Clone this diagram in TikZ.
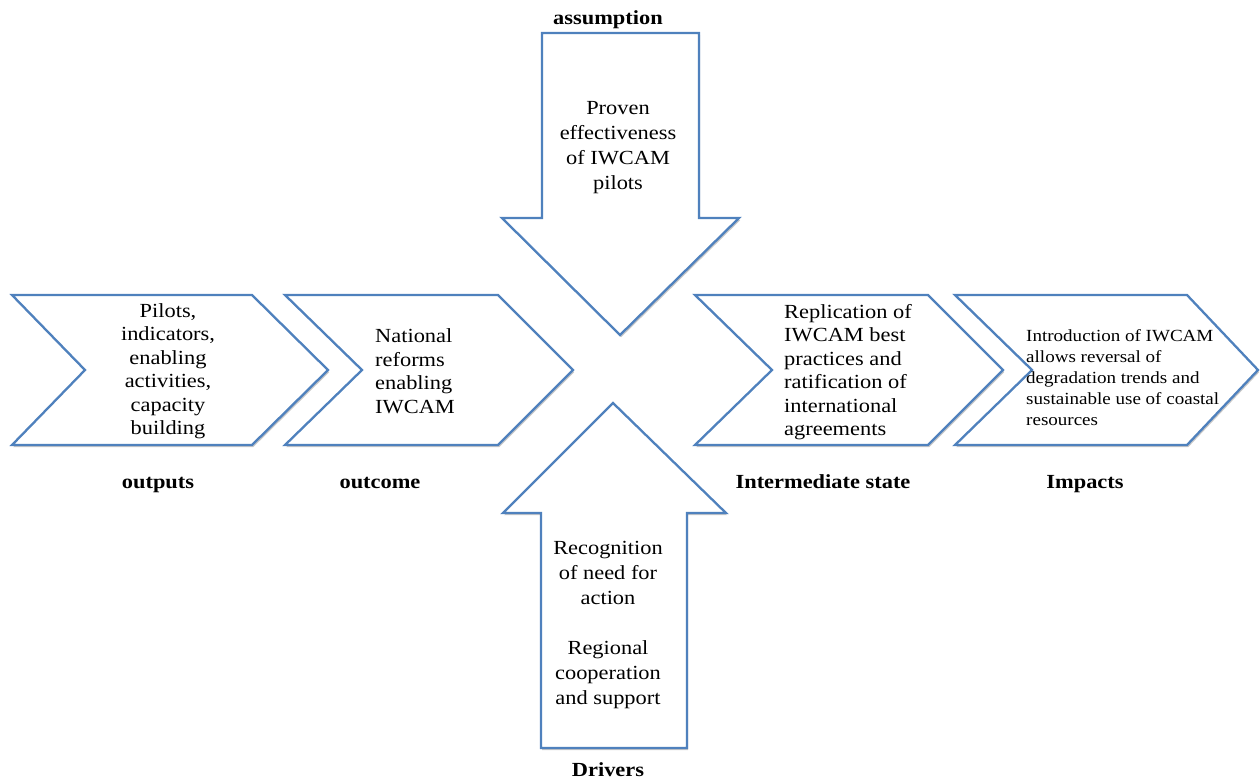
\documentclass[tikz,border=0pt]{standalone}
\usepackage{fontspec}
\setmainfont{Liberation Serif}[FakeStretch=1.12]
\usetikzlibrary{shadows}
\definecolor{lineblue}{RGB}{79,129,189}
\begin{document}
\begin{tikzpicture}[x=1pt,y=-1pt,
  blockshape/.style={draw=lineblue, line width=2.3pt, fill=white, line join=miter,
    drop shadow={shadow xshift=1.2pt, shadow yshift=-2.2pt, opacity=0.22, fill=black}},
  bodytext/.style={font=\fontsize{20}{23.5}\selectfont, inner sep=0pt},
  smalltext/.style={font=\fontsize{17}{21}\selectfont, inner sep=0pt},
  arrowtext/.style={font=\fontsize{20}{25}\selectfont, inner sep=0pt, align=center},
  stagelabel/.style={font=\fontsize{20}{24}\selectfont\bfseries, inner sep=0pt, anchor=base}]
\useasboundingbox (0,0) rectangle (1260,780);

% chevrons
\path[blockshape] (12,295) -- (252,295) -- (328,370) -- (252,445) -- (12,445) -- (85,370) -- cycle;
\path[blockshape] (285,295) -- (498,295) -- (573,370) -- (498,445) -- (285,445) -- (362,370) -- cycle;
\path[blockshape] (695,295) -- (928,295) -- (1003,370) -- (928,445) -- (695,445) -- (772,370) -- cycle;
\path[blockshape] (955,295) -- (1187,295) -- (1258,370) -- (1187,445) -- (955,445) -- (1032,370) -- cycle;

% vertical arrows
\path[blockshape] (542,33) -- (699,33) -- (699,218) -- (739,218) -- (620,335) -- (502,218) -- (542,218) -- cycle;
\path[blockshape] (541,748) -- (687,748) -- (687,513) -- (726,513) -- (613,403) -- (503,513) -- (541,513) -- cycle;

% texts in shapes
\node[bodytext, align=center] (t1) at (168,371) {Pilots,\\indicators,\\enabling\\activities,\\capacity\\building};
\node[bodytext, align=left, anchor=west] (t2) at (375,371) {National\\reforms\\enabling\\IWCAM};
\node[bodytext, align=left, anchor=west] (t3) at (784,372) {Replication of\\IWCAM best\\practices and\\ratification of\\international\\agreements};
\node[smalltext, align=left, anchor=west] (t4) at (1026,378) {Introduction of IWCAM\\allows reversal of\\degradation trends and\\sustainable use of coastal\\resources};
\node[arrowtext] (t5) at (618,148) {Proven\\effectiveness\\of IWCAM\\pilots};
\node[arrowtext] (t6) at (608,625) {Recognition\\of need for\\action\\[25pt]Regional\\cooperation\\and support};

% labels
\node[stagelabel] (l1) at (158,488) {outputs};
\node[stagelabel] (l2) at (380,488) {outcome};
\node[stagelabel] (l3) at (823,488) {Intermediate state};
\node[stagelabel] (l4) at (1085,488) {Impacts};
\node[stagelabel] (l5) at (608,24) {assumption};
\node[stagelabel] (l6) at (608,776) {Drivers};
\end{tikzpicture}
\end{document}
